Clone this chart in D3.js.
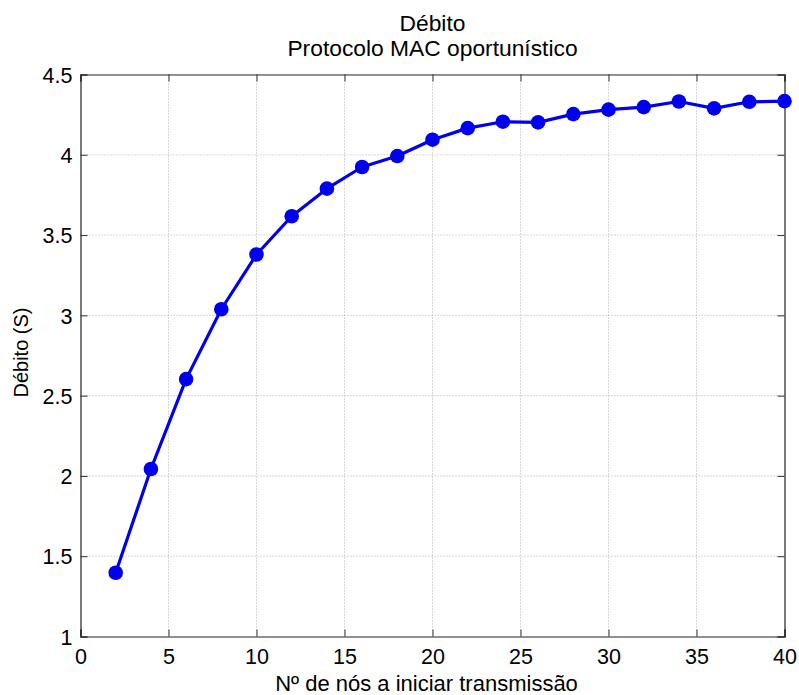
<!DOCTYPE html>
<html>
<head>
<meta charset="utf-8">
<script src="https://cdn.jsdelivr.net/npm/d3@7"></script>
<style>
  html, body { margin: 0; padding: 0; background: #fff; }
  svg { display: block; font-family: "Liberation Sans", Arial, Helvetica, sans-serif; }
</style>
</head>
<body>
<svg id="chart" width="799" height="695"></svg>
<script>
// Throughput of the opportunistic MAC protocol vs. number of transmitting nodes
const nodes = [2, 4, 6, 8, 10, 12, 14, 16, 18, 20, 22, 24, 26, 28, 30, 32, 34, 36, 38, 40];
const throughput = [1.397, 2.043, 2.603, 3.038, 3.379, 3.617, 3.789, 3.924, 3.992, 4.094,
                    4.166, 4.206, 4.202, 4.253, 4.281, 4.297, 4.332, 4.289, 4.330, 4.334];
const xTicks = [0, 5, 10, 15, 20, 25, 30, 35, 40];
const yTicks = [1, 1.5, 2, 2.5, 3, 3.5, 4, 4.5];
const titleLines = ["Débito", "Protocolo MAC oportunístico"];
const xLabel = "Nº de nós a iniciar transmissão";
const yLabel = "Débito (S)";

const svg = d3.select("#chart");
const m = { left: 80.5, right: 784.5, top: 74.5, bottom: 636.5 };

const x = d3.scaleLinear().domain([0, 40]).range([m.left, m.right]);
const y = d3.scaleLinear().domain([1, 4.5]).range([m.bottom, m.top]);

// dotted grid
const grid = svg.append("g").attr("stroke", "#b0b0b0").attr("stroke-width", 1)
  .attr("stroke-dasharray", "1,2");
grid.selectAll(".gx").data(xTicks.slice(1, -1)).join("line")
  .attr("x1", d => x(d)).attr("x2", d => x(d)).attr("y1", m.top).attr("y2", m.bottom);
grid.selectAll(".gy").data(yTicks.slice(1, -1)).join("line")
  .attr("y1", d => y(d)).attr("y2", d => y(d)).attr("x1", m.left).attr("x2", m.right);

// axes with inward ticks on all four sides
const fmt = d3.format("~g");
const axB = svg.append("g").attr("transform", `translate(0,${m.bottom})`)
  .call(d3.axisBottom(x).tickValues(xTicks).tickSize(-7).tickPadding(12).tickFormat(fmt));
const axT = svg.append("g").attr("transform", `translate(0,${m.top})`)
  .call(d3.axisTop(x).tickValues(xTicks).tickSize(-7).tickFormat(""));
const axL = svg.append("g").attr("transform", `translate(${m.left},0)`)
  .call(d3.axisLeft(y).tickValues(yTicks).tickSize(-7).tickPadding(8).tickFormat(fmt));
const axR = svg.append("g").attr("transform", `translate(${m.right},0)`)
  .call(d3.axisRight(y).tickValues(yTicks).tickSize(-7).tickFormat(""));
[axB, axT, axL, axR].forEach(a => {
  a.select(".domain").attr("stroke", "#222").attr("stroke-width", 1.2);
  a.selectAll(".tick line").attr("stroke", "#333");
  a.selectAll("text").attr("font-family", "Liberation Sans, Arial, sans-serif")
    .attr("font-size", 21.5).attr("fill", "#000");
});
axL.selectAll("text").attr("dy", "0.36em");

// series
svg.append("path")
  .datum(nodes.map((n, i) => [n, throughput[i]]))
  .attr("fill", "none").attr("stroke", "#0000ee").attr("stroke-width", 3.2)
  .attr("stroke-linejoin", "round")
  .attr("d", d3.line().x(d => x(d[0])).y(d => y(d[1])));
svg.selectAll(".pt").data(nodes).join("circle")
  .attr("cx", d => x(d)).attr("cy", (d, i) => y(throughput[i]))
  .attr("r", 7.3).attr("fill", "#0000ee");

// titles
const cx = (m.left + m.right) / 2;
svg.selectAll(".title").data(titleLines).join("text")
  .attr("x", cx).attr("y", (d, i) => 31 + i * 25)
  .attr("text-anchor", "middle").attr("font-size", 22.8).text(d => d);
svg.append("text").attr("x", cx - 6).attr("y", 691)
  .attr("text-anchor", "middle").attr("font-size", 22).text(xLabel);
svg.append("text")
  .attr("transform", `translate(28,${(m.top + m.bottom) / 2 - 3}) rotate(-90)`)
  .attr("text-anchor", "middle").attr("font-size", 20).text(yLabel);
</script>
</body>
</html>
